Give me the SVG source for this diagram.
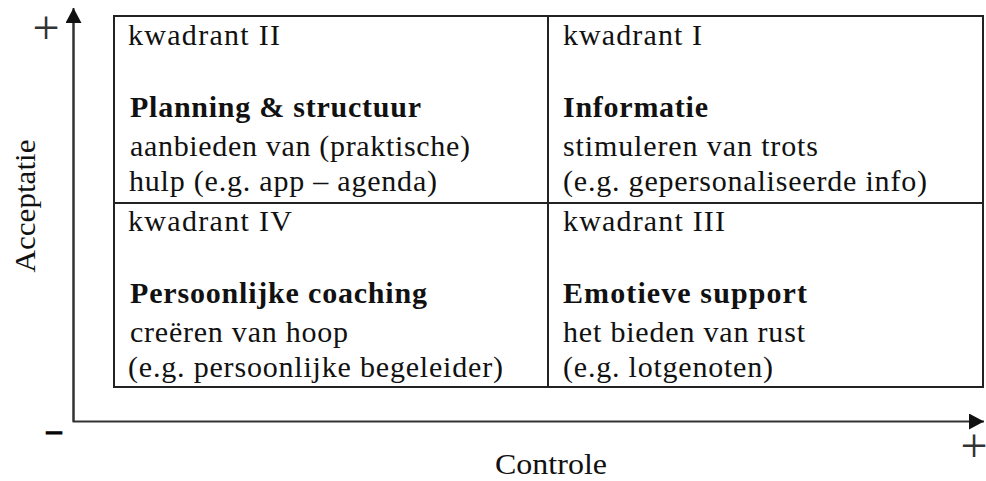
<svg xmlns="http://www.w3.org/2000/svg" width="986" height="481" viewBox="0 0 986 481">
<style>
  .t { font-family: "Liberation Serif", "Times New Roman", serif; font-size: 30px; fill: #111; }
  .b { font-weight: bold; }
  .grid { stroke: #222; stroke-width: 2; fill: none; }
  .axis { stroke: #333; stroke-width: 2; fill: none; }
  .sym { font-family: "Liberation Serif", "Times New Roman", serif; font-size: 48px; fill: #333; }
</style>
<defs>
  <marker id="arrow" viewBox="0 0 15 16" refX="15" refY="8" markerWidth="15" markerHeight="16" markerUnits="userSpaceOnUse" orient="auto">
    <path d="M0,0 L15,8 L0,16 Z" fill="#111"/>
  </marker>
</defs>
<rect width="986" height="481" fill="#fff"/>

<g id="connectors">
  <path class="axis" d="M73.5,10 L73.5,421.5 L984,421.5" marker-end="url(#arrow)"/>
  <line class="axis" x1="73.5" y1="421.5" x2="73.5" y2="8" marker-end="url(#arrow)"/>
</g>

<g id="axis-labels">
  <text class="sym" x="46" y="43.5" text-anchor="middle">+</text>
  <text class="t b" x="46.5" y="440" stroke="#000" stroke-width="1.2">–</text>
  <text class="sym" x="974" y="462" text-anchor="middle">+</text>
  <text class="t" transform="translate(35,206) rotate(-90)" text-anchor="middle" textLength="133" lengthAdjust="spacingAndGlyphs">Acceptatie</text>
  <text class="t" x="495" y="474" textLength="112" lengthAdjust="spacingAndGlyphs">Controle</text>
</g>

<g id="table">
  <rect class="grid" x="114" y="16" width="869" height="371"/>
  <line class="grid" x1="548" y1="16" x2="548" y2="387"/>
  <line class="grid" x1="114" y1="203" x2="983" y2="203"/>
</g>

<g id="kwadrant-II">
  <text class="t" x="128" y="45" textLength="152">kwadrant II</text>
  <text class="t b" x="130" y="117" textLength="291">Planning &amp; structuur</text>
  <text class="t" x="130" y="156" textLength="340">aanbieden van (praktische)</text>
  <text class="t" x="129" y="191" textLength="308">hulp (e.g. app – agenda)</text>
</g>

<g id="kwadrant-I">
  <text class="t" x="563" y="45" textLength="139">kwadrant I</text>
  <text class="t b" x="563" y="117" textLength="145">Informatie</text>
  <text class="t" x="563" y="156" textLength="255">stimuleren van trots</text>
  <text class="t" x="563" y="191" textLength="364">(e.g. gepersonaliseerde info)</text>
</g>

<g id="kwadrant-IV">
  <text class="t" x="128" y="231" textLength="164">kwadrant IV</text>
  <text class="t b" x="130" y="303" textLength="297">Persoonlijke coaching</text>
  <text class="t" x="130" y="342" textLength="218">creëren van hoop</text>
  <text class="t" x="128" y="377" textLength="375">(e.g. persoonlijke begeleider)</text>
</g>

<g id="kwadrant-III">
  <text class="t" x="563" y="231" textLength="162">kwadrant III</text>
  <text class="t b" x="563" y="303" textLength="244">Emotieve support</text>
  <text class="t" x="563" y="342" textLength="242">het bieden van rust</text>
  <text class="t" x="563" y="377" textLength="210">(e.g. lotgenoten)</text>
</g>
</svg>
